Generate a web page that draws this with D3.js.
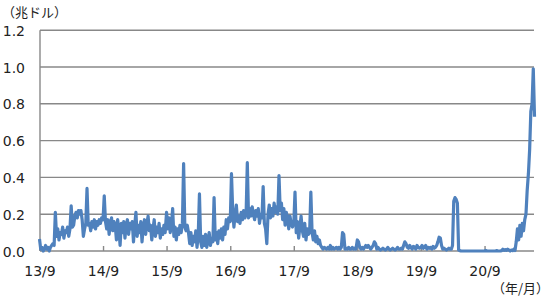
<!DOCTYPE html>
<html><head><meta charset="utf-8">
<script src="https://cdn.jsdelivr.net/npm/d3@7/dist/d3.min.js"></script>
<style>body{margin:0;background:#fff}svg{display:block}</style>
</head><body>
<svg id="c" width="550" height="302"></svg>
<script>
// ---- data (trillion USD), weekly readings per Sept–Aug year ----
const yTicks = [0, 0.2, 0.4, 0.6, 0.8, 1.0, 1.2];
const xTickLabels = ["13/9", "14/9", "15/9", "16/9", "17/9", "18/9", "19/9", "20/9"];
const xTickDates = ["2013-09-01", "2014-09-01", "2015-09-01", "2016-09-01", "2017-09-01", "2018-09-01", "2019-09-01", "2020-09-01"];
const segStarts = ["2013-09-01", "2014-09-01", "2015-09-01", "2016-09-01", "2017-09-01", "2018-09-01", "2019-09-01", "2020-09-01"];
const seg2013 = [0.065,0.01,0.02,0.0,0.01,0.03,0.01,0.02,0.0,0.02,0.03,0.04,0.03,0.21,0.08,0.12,0.06,0.10,0.09,0.13,0.07,0.11,0.10,0.13,0.08,0.12,0.245,0.13,0.14,0.19,0.21,0.18,0.22,0.20,0.22,0.17,0.08,0.12,0.15,0.34,0.14,0.15,0.11,0.16,0.13,0.17,0.12,0.16,0.14,0.17,0.15,0.18];
const seg2014 = [0.17,0.30,0.16,0.12,0.17,0.09,0.15,0.18,0.11,0.16,0.14,0.06,0.17,0.12,0.03,0.15,0.10,0.16,0.07,0.14,0.17,0.09,0.15,0.12,0.16,0.05,0.14,0.21,0.08,0.14,0.10,0.16,0.05,0.13,0.17,0.09,0.15,0.19,0.11,0.14,0.06,0.12,0.17,0.08,0.13,0.10,0.15,0.07,0.12,0.09,0.14,0.10];
const seg2015 = [0.21,0.12,0.18,0.10,0.14,0.23,0.08,0.13,0.06,0.12,0.09,0.14,0.10,0.15,0.475,0.13,0.11,0.14,0.10,0.04,0.10,0.03,0.08,0.05,0.11,0.02,0.09,0.31,0.05,0.02,0.08,0.03,0.09,0.02,0.06,0.10,0.03,0.07,0.05,0.29,0.06,0.10,0.04,0.11,0.07,0.12,0.06,0.13,0.09,0.17,0.12,0.18];
const seg2016 = [0.16,0.42,0.22,0.13,0.20,0.25,0.16,0.19,0.15,0.21,0.17,0.22,0.18,0.20,0.48,0.18,0.23,0.19,0.24,0.20,0.17,0.22,0.19,0.23,0.15,0.20,0.18,0.35,0.15,0.12,0.04,0.20,0.25,0.18,0.23,0.19,0.26,0.21,0.24,0.20,0.41,0.22,0.26,0.17,0.23,0.14,0.21,0.18,0.12,0.19,0.15,0.13];
const seg2017 = [0.15,0.32,0.10,0.16,0.07,0.13,0.19,0.11,0.08,0.15,0.06,0.12,0.09,0.10,0.32,0.10,0.06,0.11,0.05,0.08,0.04,0.06,0.03,0.02,0.01,0.02,0.015,0.01,0.02,0.01,0.03,0.01,0.02,0.01,0.015,0.02,0.01,0.02,0.01,0.02,0.10,0.09,0.01,0.015,0.01,0.02,0.01,0.01,0.02,0.01,0.015,0.01];
const seg2018 = [0.06,0.05,0.02,0.01,0.02,0.01,0.02,0.03,0.02,0.03,0.02,0.01,0.02,0.03,0.05,0.04,0.01,0.02,0.01,0.005,0.01,0.015,0.01,0.005,0.01,0.02,0.01,0.005,0.01,0.015,0.01,0.005,0.01,0.02,0.01,0.01,0.015,0.01,0.03,0.05,0.04,0.02,0.015,0.03,0.02,0.01,0.025,0.02,0.01,0.03,0.02,0.015];
const seg2019 = [0.02,0.03,0.015,0.02,0.03,0.01,0.02,0.015,0.02,0.01,0.025,0.015,0.02,0.03,0.05,0.075,0.07,0.03,0.01,0.015,0.01,0.005,0.01,0.015,0.01,0.01,0.03,0.27,0.29,0.28,0.26,0.005,0.002,0,0,0,0,0,0,0,0,0,0,0,0,0,0,0,0,0,0,0];
const seg2020 = [0,0.003,0,0,0,0,0,0,0,0,0.002,0,0,0,0.002,0.01,0.004,0.008,0.003,0.01,0.005,0,0.005,0.002,0.01,0.003,0.05,0.12,0.06,0.14,0.08,0.15,0.11,0.17,0.20,0.33,0.42,0.55,0.76,0.80,0.99,0.73];
const segments = [seg2013, seg2014, seg2015, seg2016, seg2017, seg2018, seg2019, seg2020];

// ---- build table ----
const parse = d3.timeParse("%Y-%m-%d");
const data = [];
segments.forEach((vals, k) => {
  const s = parse(segStarts[k]);
  vals.forEach((v, i) => data.push({date: d3.timeDay.offset(s, 7 * i), value: v}));
});

// ---- layout ----
const svg = d3.select("#c");
const L = 40, R = 534, T = 30.2, B = 251;
const x = d3.scaleTime().domain([parse("2013-09-01"), parse("2021-06-15")]).range([39.5, 534.5]);
const y = d3.scaleLinear().domain([0, 1.2]).range([B, T]);
const grid = "#888";
const font = "'DejaVu Sans', Verdana, sans-serif";

// gridlines
svg.append("g").selectAll("line").data(yTicks.filter(d => d > 0)).join("line")
  .attr("x1", L).attr("x2", R).attr("y1", d => y(d)).attr("y2", d => y(d))
  .attr("stroke", grid).attr("stroke-width", 1.4);
// y axis line
svg.append("line").attr("x1", L).attr("x2", L).attr("y1", y(1.2)).attr("y2", y(0))
  .attr("stroke", grid).attr("stroke-width", 1.4);
// y labels
svg.append("g").selectAll("text").data(yTicks).join("text")
  .attr("x", 25).attr("y", d => y(d) + 5.5).attr("text-anchor", "end")
  .attr("font-family", font).attr("font-size", 14).attr("fill", "#222")
  .text(d => d.toFixed(1));

// x axis
const xAxis = d3.axisBottom(x)
  .tickValues(xTickDates.map(parse))
  .tickFormat((d, i) => xTickLabels[i])
  .tickSizeInner(-5).tickSizeOuter(0).tickPadding(15);
const gx = svg.append("g").attr("transform", `translate(0,${B})`).call(xAxis);
gx.select(".domain").attr("stroke", grid).attr("stroke-width", 1.4)
  .attr("d", `M${L},0H${R}`);
gx.selectAll(".tick line").attr("stroke", grid).attr("stroke-width", 1.4);
gx.selectAll(".tick text").attr("font-family", font).attr("font-size", 14).attr("fill", "#222");

// series line
svg.append("path").datum(data)
  .attr("fill", "none").attr("stroke", "#4F81BD").attr("stroke-width", 3.2)
  .attr("stroke-linejoin", "round")
  .attr("d", d3.line().x(d => x(d.date)).y(d => y(d.value)));

// unit labels
svg.append("text").attr("x", 2).attr("y", 16.5)
  .attr("font-family", "'Noto Sans CJK JP', sans-serif").attr("font-size", 13).attr("fill", "#222")
  .text("（兆ドル）");
svg.append("text").attr("x", 492).attr("y", 293)
  .attr("font-family", "'Noto Sans CJK JP', sans-serif").attr("font-size", 13).attr("fill", "#222")
  .text("（年/月）");
</script>
</body></html>
